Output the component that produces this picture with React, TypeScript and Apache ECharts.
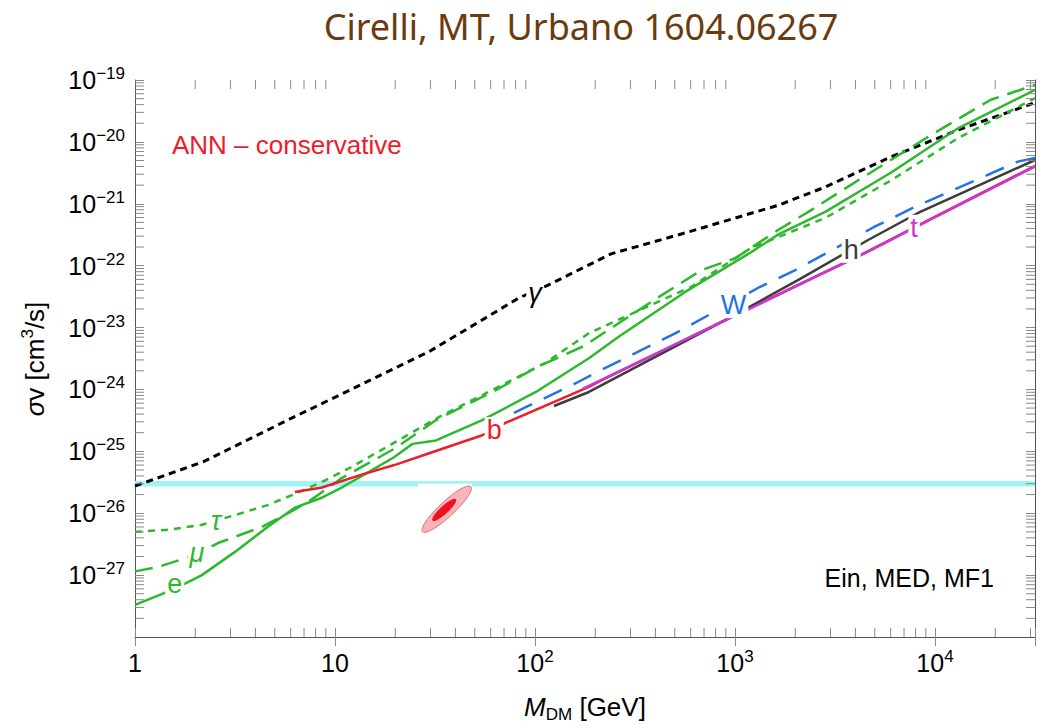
import React, { useEffect, useRef } from "react";
import * as echarts from "echarts";

// Axis ranges (GeV on x, cm^3/s on y)
const X_MIN = 1;
const X_MAX = 31623;
const Y_MIN = 1e-28;
const Y_MAX = 1e-19;

// Thermal relic cross section band
const THERMAL_SV = 3e-26;

// Minor tick multipliers inside each decade
const MINOR_STEPS = [2, 3, 4, 5, 6, 7, 8, 9];
const X_DECADES = [0, 1, 2, 3, 4];
const Y_DECADES = [-28, -27, -26, -25, -24, -23, -22, -21, -20];

// Upper limits per annihilation channel: [M_DM (GeV), sigma v (cm^3/s)]
const gammaLimit = [
  [1, 2.75e-26], [2.2, 6.8e-26], [5.8, 3.2e-25], [9.4, 6.8e-25], [29.6, 4.1e-24],
  [83, 3.0e-23], [117, 4.9e-23], [240, 1.55e-22], [566, 3.4e-22], [1650, 9.5e-22],
  [2820, 1.86e-21], [6040, 5.75e-21], [13000, 1.55e-20], [31623, 4.3e-20],
];
const tauLimit = [
  [1, 5.0e-27], [1.46, 5.4e-27], [2.16, 6.5e-27], [3.15, 9.3e-27], [4.6, 1.35e-26],
  [6.3, 2.05e-26], [8.6, 3.2e-26], [12.1, 5.6e-26], [19.8, 1.38e-25], [33.2, 3.6e-25],
  [63.8, 1.05e-24], [113, 2.7e-24], [186, 8.1e-24], [384, 2.35e-23], [607, 4.6e-23],
  [1208, 1.95e-22], [1648, 2.9e-22], [2825, 5.9e-22], [6040, 2.4e-21], [13030, 1.15e-20],
  [31623, 5.1e-20],
];
const muLimit = [
  [1, 1.15e-27], [1.3, 1.35e-27], [1.99, 2.1e-27], [2.6, 3.3e-27], [4.3, 6.0e-27],
  [5.6, 9.3e-27], [7.3, 1.5e-26], [10.8, 3.7e-26], [20, 1.12e-25], [32, 3.2e-25],
  [64, 9.8e-25], [101, 2.25e-24], [175, 5.0e-24], [254, 1.1e-23], [415, 3.1e-23],
  [681, 8.5e-23], [1005, 1.32e-22], [1648, 3.8e-22], [2328, 7.4e-22], [4130, 2.4e-21],
  [9550, 1.29e-20], [19000, 4.8e-20], [31623, 8.3e-20],
];
const eLimit = [
  [1, 3.3e-28], [1.58, 6.0e-28], [2.16, 1.0e-27], [3.15, 2.35e-27], [4.6, 6.0e-27],
  [6.3, 1.23e-26], [8.6, 1.78e-26], [10.8, 2.6e-26], [14.5, 4.5e-26], [19.8, 8.1e-26],
  [24.4, 1.32e-25], [32, 1.5e-25], [54.5, 3.2e-25], [101, 9.1e-25], [186, 3.2e-24],
  [262, 7.1e-24], [566, 3.8e-23], [1208, 1.66e-22], [1648, 3.2e-22], [2825, 7.4e-22],
  [6040, 3.2e-21], [13030, 1.66e-20], [31623, 6.9e-20],
];
const bLimit = [
  [6.3, 2.2e-26], [8.6, 2.6e-26], [13.6, 4.2e-26], [19.8, 6.0e-26], [29.6, 9.3e-26],
  [54.5, 1.82e-25], [71.6, 2.9e-25], [186, 1.1e-24], [216, 1.41e-24], [929, 1.41e-23],
  [2328, 5.9e-23], [4480, 1.62e-22], [8910, 5.1e-22], [31623, 4.1e-21],
];
const wLimit = [
  [78.5, 4.2e-25], [160, 1.26e-24], [201, 1.86e-24], [319, 3.9e-24], [505, 8.1e-24],
  [1309, 4.4e-23], [2004, 8.5e-23], [5020, 4.3e-22], [7940, 8.9e-22], [25940, 4.8e-21],
  [31623, 5.5e-21],
];
const hLimit = [
  [124.5, 5.4e-25], [186, 9.1e-25], [929, 1.41e-23], [2075, 5.9e-23], [4630, 2.6e-22],
  [8220, 7.1e-22], [31623, 5.1e-21],
];
const tLimit = [
  [173, 1.02e-24], [929, 1.38e-23], [2328, 5.8e-23], [4480, 1.6e-22], [8910, 5.0e-22],
  [31623, 4.0e-21],
];

// Curve labels: [text, M_DM, sigma v, colour, italic]
const curveLabels: [string, number, number, string, boolean][] = [
  ["γ", 100, 3.6e-23, "#000000", true],
  ["τ", 2.54, 7.5e-27, "#2db92d", true],
  ["μ", 2.04, 2.3e-27, "#2db92d", true],
  ["e", 1.58, 7.2e-28, "#2db92d", false],
  ["b", 62.5, 2.2e-25, "#ec1c2a", false],
  ["W", 984, 2.3e-23, "#2372e8", false],
  ["h", 3810, 1.8e-22, "#3c3c3c", false],
  ["t", 7860, 4.1e-22, "#c837d8", false],
];

// Galactic-centre excess best-fit region: log-space centre and half-axes
const gceOuter = { c: [1.5586, -25.934], major: [0.1207, 0.3635], minor: [0.0254, -0.0888] };
const gceInner = { c: [1.546, -25.947], major: [0.0584, 0.1729], minor: [0.0136, -0.0473] };
// White backing box of the fit region, cutting into the thermal band
const gceBox = { x0: 26, x1: 48.5, y0: THERMAL_SV, y1: 2.5e-26 };

const GREEN = "#2db92d";
const RED = "#ec1c2a";
const BLUE = "#2372e8";
const GREY = "#3c3c3c";
const MAGENTA = "#c837d8";
const FONT = '"Liberation Sans", Arial, Helvetica, sans-serif';
const TICK_LEN = 9;

const richNum = {
  b: { fontSize: 25, lineHeight: 30, color: "#000", fontFamily: FONT },
  s: { fontSize: 17, lineHeight: 17, verticalAlign: "top", color: "#000", fontFamily: FONT },
};

function decadeOf(v: number): number | null {
  const e = Math.log10(v);
  const r = Math.round(e);
  return Math.abs(e - r) < 1e-6 ? r : null;
}

function xLabel(v: number): string {
  const r = decadeOf(v);
  if (r === null) return "";
  if (r === 0) return "{b|1}";
  if (r === 1) return "{b|10}";
  return `{b|10}{s|${r}}`;
}

function yLabel(v: number): string {
  const r = decadeOf(v);
  if (r === null) return "";
  return `{b|10}{s|−${-r}}`;
}

function lineSeries(name: string, data: number[][], color: string, dash: number[] | "solid", width = 2.5, z = 3) {
  return {
    name,
    type: "line",
    data,
    showSymbol: false,
    symbol: "none",
    smooth: false,
    silent: true,
    z,
    lineStyle: { color, width, type: dash, cap: "butt", join: "round" },
  };
}

export default function App() {
  const ref = useRef<HTMLDivElement>(null);

  useEffect(() => {
    if (!ref.current) return;
    const chart = echarts.init(ref.current, undefined, { renderer: "svg" });

    const minorX: number[][] = [];
    X_DECADES.forEach((d) =>
      MINOR_STEPS.forEach((k) => {
        const v = k * Math.pow(10, d);
        if (v < X_MAX) minorX.push([v, Y_MIN]);
      })
    );
    const minorY: number[][] = [];
    Y_DECADES.forEach((d) => MINOR_STEPS.forEach((k) => minorY.push([X_MIN, k * Math.pow(10, d)])));

    const tickStyle = { stroke: "#888", lineWidth: 1 };

    const ellipsePoints = (api: any, e: typeof gceOuter) => {
      const pts: number[][] = [];
      for (let i = 0; i < 72; i++) {
        const t = (2 * Math.PI * i) / 72;
        const lx = e.c[0] + e.major[0] * Math.cos(t) + e.minor[0] * Math.sin(t);
        const ly = e.c[1] + e.major[1] * Math.cos(t) + e.minor[1] * Math.sin(t);
        pts.push(api.coord([Math.pow(10, lx), Math.pow(10, ly)]));
      }
      return pts;
    };

    const axisCommon = {
      type: "log",
      logBase: 10,
      axisLine: { show: true, lineStyle: { color: "#555", width: 1 } },
      axisTick: { show: true, inside: true, length: TICK_LEN, lineStyle: { color: "#888", width: 1 } },
      minorTick: { show: false },
      splitLine: { show: false },
    };

    const nameRich = {
      i: { fontSize: 26, lineHeight: 32, fontStyle: "italic", color: "#000", fontFamily: FONT },
      n: { fontSize: 26, lineHeight: 32, color: "#000", fontFamily: FONT },
      sub: { fontSize: 17, lineHeight: 18, verticalAlign: "bottom", color: "#000", fontFamily: FONT },
      s: { fontSize: 17, lineHeight: 18, verticalAlign: "top", color: "#000", fontFamily: FONT },
    };

    const option: any = {
      animation: false,
      textStyle: { fontFamily: FONT },
      grid: {
        left: 135,
        right: 9,
        top: 80,
        bottom: 88,
        containLabel: false,
        outerBoundsMode: "none",
      },
      graphic: [
        {
          type: "text",
          x: 581,
          y: 26,
          style: {
            text: "Cirelli, MT, Urbano 1604.06267",
            fill: "#6b3a0e",
            fontSize: 36,
            fontFamily: '"Noto Sans", sans-serif',
            textAlign: "center",
            textVerticalAlign: "middle",
            align: "center",
            verticalAlign: "middle",
          },
        },
        {
          type: "text",
          x: 35,
          y: 359,
          rotation: Math.PI / 2,
          style: {
            text: "{i|σ}{n|v [cm}{s|3}{n|/s]}",
            rich: nameRich,
            textAlign: "center",
            textVerticalAlign: "middle",
            align: "center",
            verticalAlign: "middle",
          },
        },
        {
          type: "text",
          x: 172,
          y: 145,
          z: 10,
          style: {
            text: "ANN – conservative",
            fill: RED,
            fontSize: 26,
            fontFamily: FONT,
            textVerticalAlign: "middle",
            verticalAlign: "middle",
          },
        },
        {
          type: "text",
          x: 994,
          y: 578,
          z: 10,
          style: {
            text: "Ein, MED, MF1",
            fill: "#000",
            fontSize: 25,
            fontFamily: FONT,
            textAlign: "right",
            align: "right",
            textVerticalAlign: "middle",
            verticalAlign: "middle",
          },
        },
      ],
      xAxis: [
        {
          ...axisCommon,
          position: "bottom",
          min: X_MIN,
          max: X_MAX,
          axisLabel: { formatter: xLabel, margin: 11, rich: richNum, color: "#000" },
          name: "{i|M}{sub|DM}{n| [GeV]}",
          nameLocation: "middle",
          nameGap: 54,
          nameTextStyle: { rich: nameRich },
        },
        {
          ...axisCommon,
          position: "top",
          min: X_MIN,
          max: X_MAX,
          axisLabel: { show: false },
        },
      ],
      yAxis: [
        {
          ...axisCommon,
          position: "left",
          min: Y_MIN,
          max: Y_MAX,
          axisLabel: { formatter: yLabel, margin: 10, rich: richNum, color: "#000" },
        },
        {
          ...axisCommon,
          position: "right",
          min: Y_MIN,
          max: Y_MAX,
          axisLabel: { show: false },
        },
      ],
      series: [
        {
          name: "thermal",
          type: "line",
          data: [[X_MIN, THERMAL_SV], [X_MAX, THERMAL_SV]],
          showSymbol: false,
          symbol: "none",
          silent: true,
          z: 1,
          lineStyle: { color: "#a2f4f4", width: 5.5 },
        },
        {
          name: "GCE",
          type: "custom",
          silent: true,
          z: 2,
          data: [[Math.pow(10, gceOuter.c[0]), Math.pow(10, gceOuter.c[1])]],
          renderItem: (_params: any, api: any) => {
            const a = api.coord([gceBox.x0, gceBox.y0]);
            const b = api.coord([gceBox.x1, gceBox.y1]);
            return {
              type: "group",
              children: [
                {
                  type: "rect",
                  shape: { x: a[0], y: a[1], width: b[0] - a[0], height: b[1] - a[1] },
                  style: { fill: "#ffffff" },
                },
                {
                  type: "polygon",
                  shape: { points: ellipsePoints(api, gceOuter) },
                  style: { fill: "#f9b5b9", stroke: "#e46a72", lineWidth: 1 },
                },
                {
                  type: "polygon",
                  shape: { points: ellipsePoints(api, gceInner) },
                  style: { fill: "#ee1122" },
                },
              ],
            };
          },
        },
        lineSeries("γ", gammaLimit, "#000000", [7, 5], 3),
        lineSeries("τ", tauLimit, GREEN, [7, 6]),
        lineSeries("μ", muLimit, GREEN, [18, 9]),
        lineSeries("e", eLimit, GREEN, "solid"),
        lineSeries("b", bLimit, RED, "solid"),
        lineSeries("W", wLimit, BLUE, [20, 13]),
        lineSeries("h", hLimit, GREY, "solid", 2.5, 4),
        lineSeries("t", tLimit, MAGENTA, "solid", 2.5, 5),
        {
          name: "labels",
          type: "custom",
          silent: true,
          clip: false,
          z: 8,
          data: curveLabels.map(([, m, sv]) => [m, sv]),
          renderItem: (params: any, api: any) => {
            const [text, , , color, italic] = curveLabels[params.dataIndex];
            const p = api.coord([api.value(0), api.value(1)]);
            return {
              type: "text",
              x: p[0],
              y: p[1],
              style: {
                text,
                fill: color,
                fontSize: 27,
                fontStyle: italic ? "italic" : "normal",
                fontFamily: FONT,
                lineHeight: 26,
                backgroundColor: "#ffffff",
                padding: [0, 2],
                align: "center",
                verticalAlign: "middle",
                textAlign: "center",
                textVerticalAlign: "middle",
              },
            };
          },
        },
        {
          name: "minorX",
          type: "custom",
          silent: true,
          clip: false,
          z: 9,
          data: minorX,
          renderItem: (_params: any, api: any) => {
            const v = api.value(0);
            const b = api.coord([v, Y_MIN]);
            const t = api.coord([v, Y_MAX]);
            return {
              type: "group",
              children: [
                { type: "line", shape: { x1: b[0], y1: b[1], x2: b[0], y2: b[1] - TICK_LEN }, style: tickStyle },
                { type: "line", shape: { x1: t[0], y1: t[1], x2: t[0], y2: t[1] + TICK_LEN }, style: tickStyle },
              ],
            };
          },
        },
        {
          name: "minorY",
          type: "custom",
          silent: true,
          clip: false,
          z: 9,
          data: minorY,
          renderItem: (_params: any, api: any) => {
            const v = api.value(1);
            const l = api.coord([X_MIN, v]);
            const r = api.coord([X_MAX, v]);
            return {
              type: "group",
              children: [
                { type: "line", shape: { x1: l[0], y1: l[1], x2: l[0] + TICK_LEN, y2: l[1] }, style: tickStyle },
                { type: "line", shape: { x1: r[0], y1: r[1], x2: r[0] - TICK_LEN, y2: r[1] }, style: tickStyle },
              ],
            };
          },
        },
      ],
    };

    chart.setOption(option);
    return () => chart.dispose();
  }, []);

  return (
    <div
      ref={ref}
      style={{ position: "absolute", left: 0, top: 0, width: 1044, height: 725, background: "#fff" }}
    />
  );
}
